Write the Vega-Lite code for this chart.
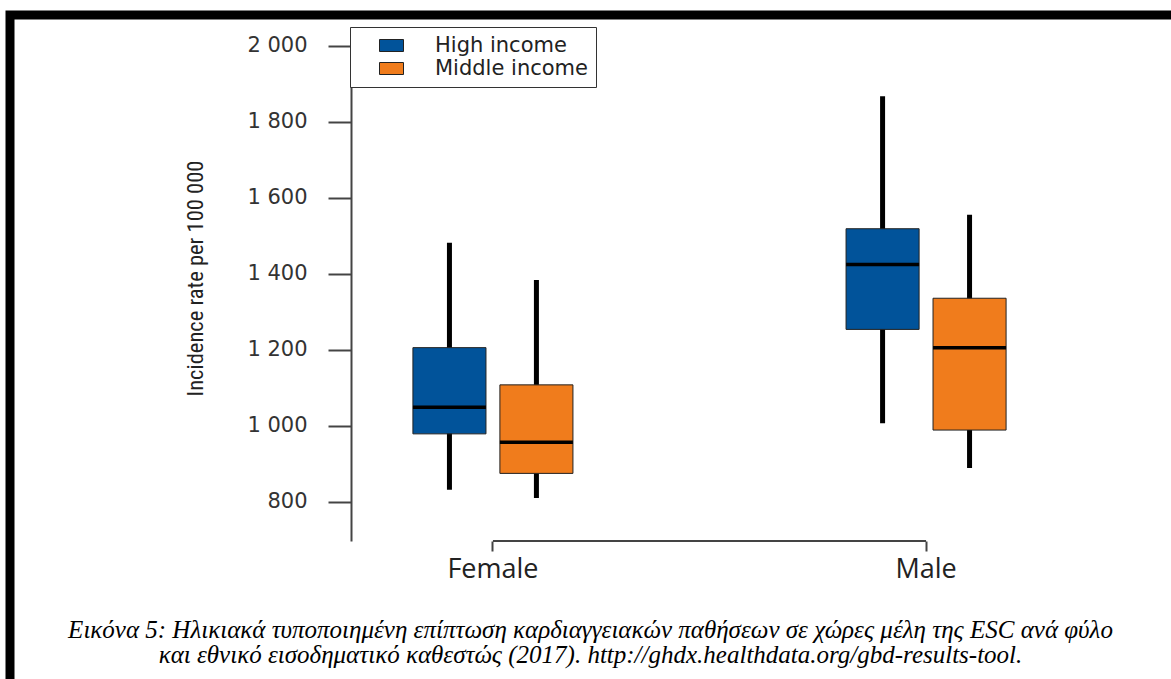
{
  "$schema": "https://vega.github.io/schema/vega-lite/v6.json",
  "autosize": "none",
  "padding": {"left": 10, "top": 15, "right": 0, "bottom": 0},
  "width": 1161,
  "height": 664,
  "background": "white",
  "view": {"stroke": "black", "strokeWidth": 9, "strokeDash": [1161, 1825, 664], "fill": "white"},
  "data": {
    "values": [
      {"sex": "Female", "income": "High income", "min": 832, "q1": 979, "median": 1049, "q3": 1206, "max": 1482},
      {"sex": "Female", "income": "Middle income", "min": 810, "q1": 875, "median": 957, "q3": 1108, "max": 1384},
      {"sex": "Male", "income": "High income", "min": 1007, "q1": 1254, "median": 1425, "q3": 1519, "max": 1868},
      {"sex": "Male", "income": "Middle income", "min": 889, "q1": 989, "median": 1206, "q3": 1336, "max": 1556}
    ]
  },
  "title": {
    "text": [
      "Εικόνα 5: Ηλικιακά τυποποιημένη επίπτωση καρδιαγγειακών παθήσεων σε χώρες μέλη της ESC ανά φύλο",
      "και εθνικό εισοδηματικό καθεστώς (2017). http://ghdx.healthdata.org/gbd-results-tool."
    ],
    "orient": "bottom",
    "anchor": "middle",
    "frame": "group",
    "offset": -61,
    "font": "Liberation Serif",
    "fontStyle": "italic",
    "fontWeight": "normal",
    "fontSize": 25,
    "lineHeight": 25,
    "color": "black"
  },
  "encoding": {
    "x": {
      "field": "sex",
      "type": "nominal",
      "sort": ["Female", "Male"],
      "title": null,
      "scale": {"range": [340, 1059], "paddingInner": 0.5, "paddingOuter": 0.08},
      "axis": {
        "domain": false,
        "offset": -138,
        "tickSize": 10,
        "tickWidth": 2,
        "tickColor": "#444",
        "labelFont": "Open Sans",
        "labelFontSize": 27,
        "labelColor": "#222",
        "labelPadding": 26,
        "labelBaseline": "alphabetic",
        "labelAngle": 0
      }
    },
    "y": {
      "type": "quantitative",
      "scale": {"domain": [697, 2050], "range": [526, 12], "nice": false, "zero": false},
      "axis": {
        "values": [800, 1000, 1200, 1400, 1600, 1800, 2000],
        "labelExpr": "replace(format(datum.value, ','), ',', ' ')",
        "offset": -341,
        "grid": false,
        "tickSize": 23,
        "tickWidth": 2,
        "tickColor": "#444",
        "domainColor": "#444",
        "domainWidth": 2,
        "labelFont": "DejaVu Sans",
        "labelFontSize": 21,
        "labelColor": "#333",
        "labelPadding": 21,
        "title": "Incidence rate per 100 000",
        "titleFont": "Liberation Sans Narrow, Roboto Condensed, Liberation Sans, sans-serif",
        "titleFontSize": 22.5,
        "titleFontWeight": "normal",
        "titleColor": "#222",
        "titleX": -156,
        "titleY": 263,
        "titleAngle": -90,
        "titleAlign": "center",
        "titleBaseline": "middle"
      }
    }
  },
  "layer": [
    {
      "data": {"values": [{"from": "Female", "to": "Male"}]},
      "mark": {"type": "rule", "strokeWidth": 2, "color": "#444"},
      "encoding": {
        "x": {"field": "from", "type": "nominal", "bandPosition": 0.5},
        "x2": {"field": "to", "bandPosition": 0.5},
        "y": {"datum": 697, "type": "quantitative"}
      }
    },
    {
      "mark": {"type": "rule", "strokeWidth": 5, "color": "black"},
      "encoding": {
        "xOffset": {"field": "income", "type": "nominal", "scale": {"paddingInner": 0.16, "paddingOuter": 0.325}},
        "y": {"field": "min", "type": "quantitative"},
        "y2": {"field": "max"}
      }
    },
    {
      "mark": {"type": "bar", "stroke": "#222", "strokeWidth": 1, "opacity": 1},
      "encoding": {
        "xOffset": {"field": "income", "type": "nominal"},
        "y": {"field": "q1", "type": "quantitative"},
        "y2": {"field": "q3"},
        "color": {
          "field": "income",
          "type": "nominal",
          "scale": {"domain": ["High income", "Middle income"], "range": ["#01539a", "#f07c1c"]},
          "legend": {
            "orient": "none",
            "legendX": 340,
            "legendY": 12,
            "title": null,
            "strokeColor": "#333",
            "fillColor": "white",
            "padding": 8,
            "symbolType": "M-2,-1H2V1H-2Z",
            "symbolSize": 144,
            "symbolStrokeColor": "#222",
            "symbolStrokeWidth": 1,
            "symbolOpacity": 1,
            "symbolOffset": 23,
            "labelOffset": 33,
            "labelLimit": 400,
            "labelFont": "DejaVu Sans",
            "labelFontSize": 21,
            "labelColor": "#222",
            "rowPadding": 1
          }
        }
      }
    },
    {
      "mark": {"type": "tick", "thickness": 3.5, "size": 73, "color": "black", "opacity": 1},
      "encoding": {
        "xOffset": {"field": "income", "type": "nominal"},
        "y": {"field": "median", "type": "quantitative"}
      }
    }
  ]
}
